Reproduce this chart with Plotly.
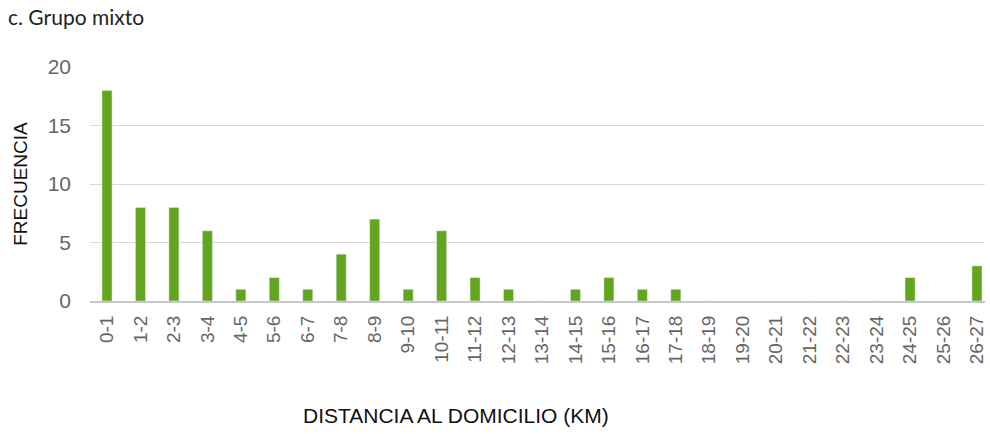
import plotly.graph_objects as go

categories = ["0-1","1-2","2-3","3-4","4-5","5-6","6-7","7-8","8-9","9-10","10-11","11-12","12-13","13-14",
              "14-15","15-16","16-17","17-18","18-19","19-20","20-21","21-22","22-23","23-24","24-25","25-26","26-27"]
frecuencia = [18,8,8,6,1,2,1,4,7,1,6,2,1,0,1,2,1,1,0,0,0,0,0,0,2,0,3]
y_ticks = [0,5,10,15,20]

FONT = "Liberation Sans Narrow, Liberation Sans, Arial"

fig = go.Figure(go.Bar(x=categories, y=frecuencia, marker_color="#62a51f", width=0.3))

fig.update_layout(
    width=990, height=434,
    margin=dict(l=90, r=5, t=67, b=133, autoexpand=False),
    paper_bgcolor="white", plot_bgcolor="white",
    showlegend=False,
    title=dict(text="c. Grupo mixto", xref="container", yref="container", x=8/990, y=1-10/434,
               xanchor="left", yanchor="top", font=dict(family="Lato", size=21, color="#222")),
    annotations=[dict(text="DISTANCIA AL DOMICILIO (KM)", xref="paper", yref="paper",
                      x=(456 - 90) / 895, y=(301 - 415) / 234, xanchor="center", yanchor="middle",
                      showarrow=False, font=dict(family=FONT, size=21, color="#111"))],
)
fig.update_xaxes(type="category", range=[-0.508, 26.24], tickangle=-90, automargin=False,
                 ticklabeloverflow="allow", ticklabelstandoff=5,
                 tickfont=dict(family=FONT, size=19, color="#666"),
                 showline=True, linecolor="#c8c8c8", linewidth=2, ticks="", showgrid=False)
fig.update_yaxes(range=[0, 20], tickvals=y_ticks, showgrid=True, gridcolor="#d9d9d9", gridwidth=1,
                 zeroline=False, ticks="", automargin=False, ticklabelstandoff=18,
                 tickfont=dict(family=FONT, size=21, color="#666"),
                 title=dict(text="FRECUENCIA", standoff=14,
                            font=dict(family=FONT, size=19, color="#111")))

fig.write_html("out.html", config={"displayModeBar": False},
               post_script="document.body.style.margin='0';document.body.style.overflow='hidden';")
